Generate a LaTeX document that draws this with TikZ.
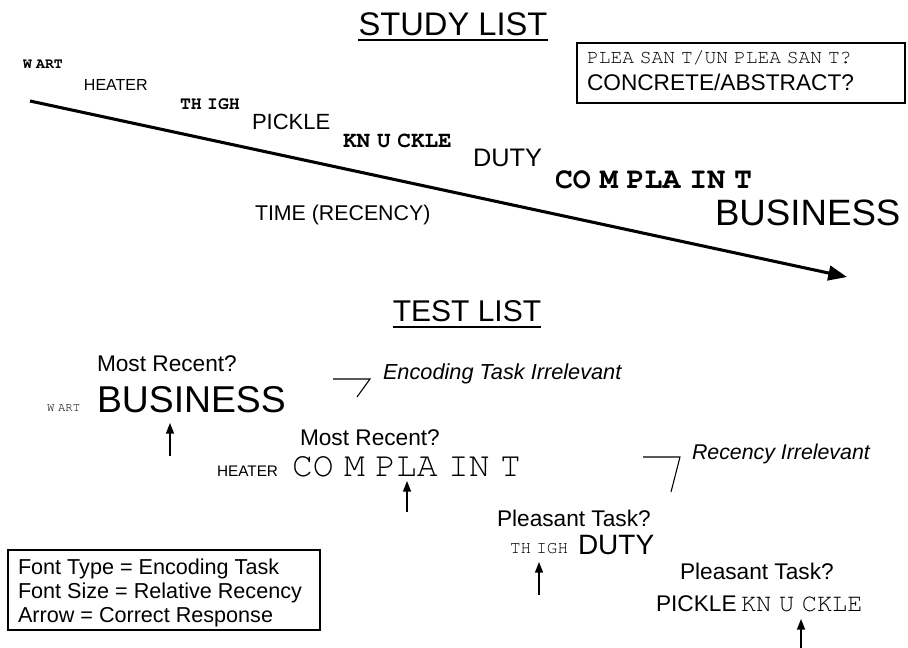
\documentclass[tikz,border=0pt]{standalone}
\usepackage[T1,TU]{fontenc}
\usepackage{fontspec}
\setmainfont{Liberation Sans}
\newfontfamily\hv{Liberation Sans}
\newcommand{\cour}{\fontencoding{T1}\fontfamily{pcr}\selectfont}
\newcommand{\gp}{\hspace{0.3em}}
\usetikzlibrary{arrows.meta}
\tikzset{
  w/.style={anchor=base west, inner sep=0pt, outer sep=0pt},
  hd/.style={anchor=base, inner sep=0pt, font=\hv\fontsize{#1}{#1}\selectfont},
  sans/.style={w, font=\hv\fontsize{#1}{#1}\selectfont},
  it/.style={w, font=\hv\itshape\fontsize{#1}{#1}\selectfont},
  monob/.style={w, font=\cour\bfseries\fontsize{#1}{#1}\selectfont},
  mono/.style={w, font=\cour\fontsize{#1}{#1}\selectfont},
  resp/.style={line width=1.1pt, -{Triangle[length=8pt,width=6pt]}},
  brk/.style={line width=0.8pt},
  frame/.style={draw, line width=0.8pt}
}
\begin{document}
\begin{tikzpicture}[x=0.75pt,y=-0.75pt]
\useasboundingbox (0,0) rectangle (908,648);
% headings
\node[hd=24.5pt] (study) at (453,36) {STUDY LIST};
\draw[line width=1.3pt] (study.base west) ++(0,4) coordinate (su1) -- (su1 -| study.base east);
\node[hd=22.5pt] (test) at (467,322) {TEST LIST};
\draw[line width=1.3pt] (test.base west) ++(0,5) coordinate (tu1) -- (tu1 -| test.base east);
% top-right box
\draw[frame] (577,43) rectangle (905,103);
\node[mono=14.7pt] (pu) at (587,64) {PLEA\gp SAN\gp T/UN\gp PLEA\gp SAN\gp T?};
\node[sans=17pt] (ca) at (587,91) {CONCRETE/ABSTRACT?};
% study list words
\node[monob=11pt] (s1) at (23,69) {W\gp ART};
\node[sans=12pt] (s2) at (84,91) {HEATER};
\node[monob=13.6pt] (s3) at (180,110) {TH\gp IGH};
\node[sans=16.5pt] (s4) at (252,130) {PICKLE};
\node[monob=17pt] (s5) at (343,148) {KN\gp U\gp CKLE};
\node[sans=19pt] (s6) at (473,167) {DUTY};
\node[monob=22.4pt] (s7) at (555,189) {CO\gp M\gp PLA\gp IN\gp T};
\node[sans=27.5pt] (s8) at (715,226) {BUSINESS};
\node[sans=16pt] (time) at (255,221) {TIME (RECENCY)};
% time arrow
\coordinate (ta) at (30,101);
\coordinate (tb) at (847,277);
\draw[line width=2.3pt, -{Triangle[length=14pt,width=11pt]}] (ta) -- (tb);
% test list
\node[sans=17pt] (q1) at (97,372) {Most Recent?};
\node[mono=9.2pt] (t1a) at (47,412) {W\gp ART};
\node[sans=28pt] (t1b) at (97,413) {BUSINESS};
\coordinate (r1b) at (170,456); \coordinate (r1t) at (170,423);
\draw[resp] (r1b) -- (r1t);
\coordinate (b1a) at (333,379); \coordinate (b1b) at (370,379); \coordinate (b1c) at (357,397);
\draw[brk] (b1a) -- (b1b) -- (b1c);
\node[it=16.3pt] (enc) at (383,380) {Encoding Task Irrelevant};
\node[sans=17pt] (q2) at (300,446) {Most Recent?};
\node[sans=11.5pt] (t2a) at (217,477) {HEATER};
\node[mono=26pt] (t2b) at (292,477) {CO\gp M\gp PLA\gp IN\gp T};
\coordinate (r2b) at (407,512); \coordinate (r2t) at (407,481);
\draw[resp] (r2b) -- (r2t);
\coordinate (b2a) at (643,457); \coordinate (b2b) at (680,457); \coordinate (b2c) at (671,492);
\draw[brk] (b2a) -- (b2b) -- (b2c);
\node[it=16pt] (rec) at (692,460) {Recency Irrelevant};
\node[sans=17pt] (q3) at (497,527) {Pleasant Task?};
\node[mono=13.2pt] (t3a) at (510,554) {TH\gp IGH};
\node[sans=21pt] (t3b) at (578,555) {DUTY};
\coordinate (r3b) at (539,595); \coordinate (r3t) at (539,562);
\draw[resp] (r3b) -- (r3t);
\node[sans=17pt] (q4) at (680,580) {Pleasant Task?};
\node[sans=17pt] (t4a) at (656,612) {PICKLE};
\node[mono=19pt] (t4b) at (741,612) {KN\gp U\gp CKLE};
\coordinate (r4b) at (801,648); \coordinate (r4t) at (801,619);
\draw[resp] (r4b) -- (r4t);
% legend
\draw[frame] (8,550) rectangle (320,630);
\node[sans=16.2pt] (l1) at (18,575) {Font Type = Encoding Task};
\node[sans=16.2pt] (l2) at (18,599) {Font Size = Relative Recency};
\node[sans=16.2pt] (l3) at (18,623) {Arrow = Correct Response};
\end{tikzpicture}
\end{document}
